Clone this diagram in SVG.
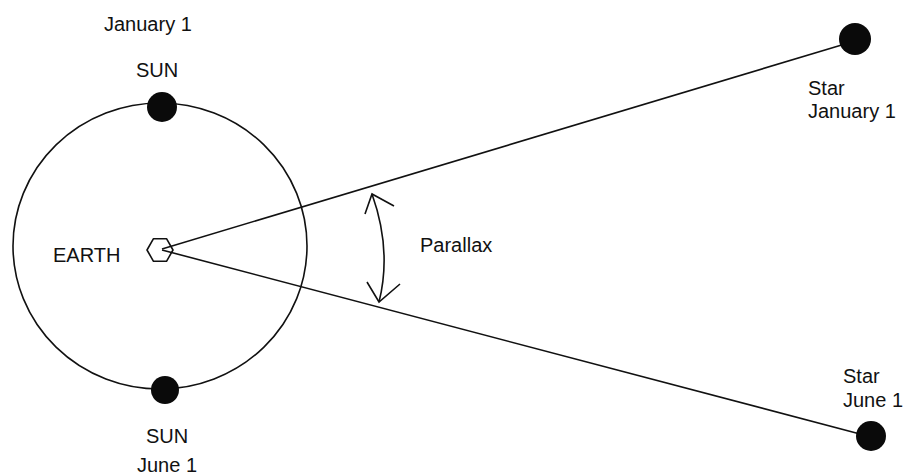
<svg xmlns="http://www.w3.org/2000/svg" width="905" height="476" viewBox="0 0 905 476">
<style>
text{font-family:"Liberation Sans",Arial,sans-serif;font-size:20px;fill:#111}
.ln{stroke:#111;stroke-width:1.6;fill:none}
.dot{fill:#0a0a0a}
</style>
<rect width="905" height="476" fill="#fff"/>
<g id="orbit">
<ellipse class="ln" cx="160" cy="246" rx="147" ry="143"/>
</g>
<g id="connectors">
<line class="ln" x1="162" y1="249" x2="845" y2="44"/>
<line class="ln" x1="162" y1="250" x2="860" y2="434"/>
<path class="ln" d="M372,194 Q392,250 379,302"/>
<path class="ln" d="M365,214 L372,194 L394,206"/>
<path class="ln" d="M367,282 L379,302 L400,284"/>
</g>
<g id="sun-jan">
<circle class="dot" cx="162" cy="107" r="15"/>
<text x="136" y="77">SUN</text>
<text x="104" y="31">January 1</text>
</g>
<g id="sun-june">
<circle class="dot" cx="165" cy="390" r="14"/>
<text x="146" y="443">SUN</text>
<text x="137" y="472">June 1</text>
</g>
<g id="earth">
<polygon class="ln" points="173,250 166.5,261.3 153.5,261.3 147,250 153.5,238.7 166.5,238.7" stroke-linejoin="round"/>
<text x="53" y="262">EARTH</text>
</g>
<g id="star-jan">
<circle class="dot" cx="855" cy="39" r="16"/>
<text x="808" y="95">Star</text>
<text x="808" y="118">January 1</text>
</g>
<g id="star-june">
<circle class="dot" cx="871" cy="436" r="15"/>
<text x="843" y="383">Star</text>
<text x="843" y="407">June 1</text>
</g>
<g id="parallax">
<text x="420" y="252">Parallax</text>
</g>
</svg>
